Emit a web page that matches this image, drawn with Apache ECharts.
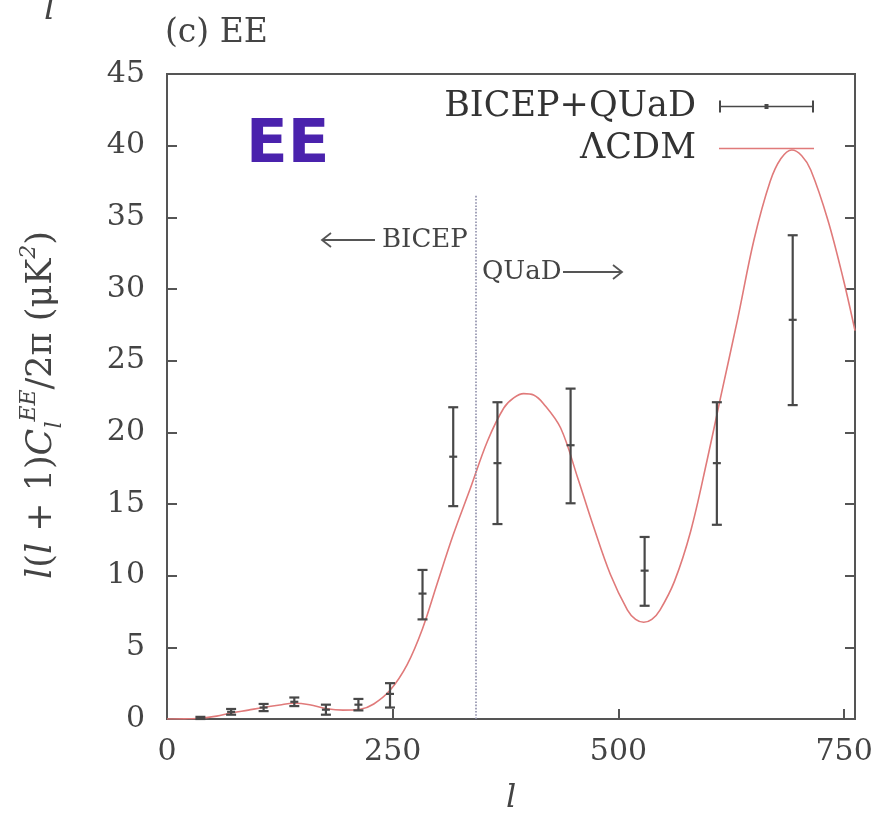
<!DOCTYPE html>
<html>
<head>
<meta charset="utf-8">
<script src="https://cdn.jsdelivr.net/npm/echarts@6/dist/echarts.min.js"></script>
<style>
html, body { margin: 0; padding: 0; background: #fff; }
#main { width: 877px; height: 820px; }
</style>
</head>
<body>
<div id="main"></div>
<script>
// ΛCDM model curve (l, l(l+1)C_l/2pi)
var cdmL = [0, 20, 37, 55, 70, 90, 106, 125, 140, 158, 177, 195, 214, 229, 247, 266, 283, 299, 317, 336, 355, 373, 384, 395, 406, 417, 436, 455, 472, 491, 510, 519, 528, 537, 546, 562, 580, 598, 613, 632, 650, 668, 680, 692, 703, 713, 732, 749, 762];
var cdmY = [0, 0.01, 0.05, 0.2, 0.4, 0.62, 0.8, 0.98, 1.1, 1.0, 0.72, 0.62, 0.68, 1.05, 2.0, 3.8, 6.3, 9.4, 12.85, 16.1, 19.4, 21.7, 22.4, 22.7, 22.6, 22.0, 20.3, 16.8, 13.5, 10.1, 7.6, 6.95, 6.75, 6.95, 7.6, 9.6, 13.1, 18.0, 22.4, 27.9, 33.4, 37.5, 39.1, 39.7, 39.3, 38.3, 34.8, 30.7, 27.1];

// BICEP+QUaD bandpowers
var ptL  = [37, 71, 107, 141, 176, 212, 247, 283, 317, 366, 447, 529, 609, 693];
var ptY  = [0.05, 0.5, 0.8, 1.2, 0.65, 1.0, 1.75, 8.75, 18.3, 17.85, 19.1, 10.35, 17.85, 27.85];
var ptLo = [0.0, 0.3, 0.55, 0.9, 0.3, 0.6, 0.8, 6.95, 14.85, 13.6, 15.05, 7.9, 13.55, 21.9];
var ptHi = [0.15, 0.7, 1.05, 1.5, 1.0, 1.4, 2.5, 10.4, 21.75, 22.1, 23.05, 12.7, 22.1, 33.75];

var xTicks = [0, 250, 500, 750];
var bicepEdge = 341.5;   // BICEP / QUaD boundary
var edgeTop = 36.6;

var serif = 'DejaVu Serif';
var txtColor = '#444';
var axisColor = '#555';

var curve = [];
for (var i = 0; i < cdmL.length; i++) {
    curve.push([cdmL[i], cdmY[i]]);
}
var bars = [];
for (var i = 0; i < ptL.length; i++) {
    bars.push([ptL[i], ptY[i], ptLo[i], ptHi[i]]);
}

// error bar with caps and centre mark
function renderBar(params, api) {
    var x = api.value(0);
    var c = api.coord([x, api.value(1)]);
    var lo = api.coord([x, api.value(2)]);
    var hi = api.coord([x, api.value(3)]);
    var w = 5;
    var st = { stroke: '#484848', lineWidth: 2.2 };
    return {
        type: 'group',
        children: [
            { type: 'line', shape: { x1: c[0], y1: lo[1], x2: c[0], y2: hi[1] }, style: st },
            { type: 'line', shape: { x1: c[0] - w, y1: lo[1], x2: c[0] + w, y2: lo[1] }, style: st },
            { type: 'line', shape: { x1: c[0] - w, y1: hi[1], x2: c[0] + w, y2: hi[1] }, style: st },
            { type: 'line', shape: { x1: c[0] - 4, y1: c[1], x2: c[0] + 4, y2: c[1] }, style: st }
        ]
    };
}

var barIcon = 'path://M0,0h2v12h-2z M0,5.2h95v1.6h-95z M93,0h2v12h-2z M45.5,3.5h4v5h-4z';
var lineIcon = 'path://M0,5.3h95v1.4h-95z';

var myChart = echarts.init(document.getElementById('main'));
var option = {
    backgroundColor: '#fff',
    animation: false,
    title: {
        text: '(c) EE',
        left: 160,
        top: 12,
        textStyle: { fontFamily: serif, fontSize: 33, fontWeight: 'normal', color: txtColor }
    },
    legend: {
        orient: 'vertical',
        right: 58,
        top: 84,
        align: 'right',
        itemWidth: 95,
        itemHeight: 12,
        itemGap: 7,
        textStyle: { fontFamily: serif, fontSize: 35, color: '#333', lineHeight: 30, padding: [0, 18, 0, 0] },
        data: [
            { name: 'BICEP+QUaD', icon: barIcon },
            { name: 'ΛCDM', icon: lineIcon }
        ]
    },
    grid: {
        left: 167, right: 22, top: 74, bottom: 98,
        show: true,
        borderColor: axisColor,
        borderWidth: 2
    },
    xAxis: [{
        type: 'value',
        min: 0,
        max: 762,
        name: 'l',
        nameLocation: 'middle',
        nameGap: 64,
        nameTextStyle: { fontFamily: serif, fontSize: 32, fontStyle: 'italic', color: txtColor },
        axisLine: { show: false },
        splitLine: { show: false },
        axisTick: { inside: true, length: 10, customValues: xTicks, lineStyle: { color: axisColor, width: 2 } },
        axisLabel: {
            margin: 18,
            customValues: xTicks,
            fontFamily: serif, fontSize: 30, color: txtColor,
            formatter: function (v) { return v % 250 === 0 ? String(v) : ''; }
        }
    }],
    yAxis: [{
        type: 'value',
        min: 0,
        max: 45,
        interval: 5,
        axisLine: { show: false },
        splitLine: { show: false },
        axisTick: { inside: true, length: 10, lineStyle: { color: axisColor, width: 2 } },
        axisLabel: { margin: 22, fontFamily: serif, fontSize: 30, color: txtColor }
    }, {
        type: 'value',
        position: 'right',
        min: 0,
        max: 45,
        interval: 5,
        axisLine: { show: false },
        splitLine: { show: false },
        axisTick: { inside: true, length: 10, lineStyle: { color: axisColor, width: 2 } },
        axisLabel: { show: false }
    }],
    graphic: [
        // piece of the neighbouring panel's axis label
        { type: 'text', x: 44, y: 27, style: { text: 'l', fontFamily: serif, fontSize: 34, fontStyle: 'italic', fill: txtColor, verticalAlign: 'bottom' } },
        { type: 'text', x: 246, y: 116, style: { text: 'EE', fontFamily: 'DejaVu Sans', fontSize: 61, fontWeight: 'bold', fill: '#4a22ad' } },
        // y axis title
        {
            type: 'text', x: 42, y: 405, rotation: Math.PI / 2,
            style: {
                text: '{i|l}({i|l} + 1){i|C}{sub|l}{sup|EE}/2π (μK{sup|2})',
                fontFamily: serif, fontSize: 35, fill: txtColor,
                align: 'center', verticalAlign: 'middle',
                rich: {
                    i: { fontFamily: serif, fontSize: 35, fontStyle: 'italic', fill: txtColor, lineHeight: 48 },
                    sub: { fontFamily: serif, fontSize: 22, fontStyle: 'italic', fill: txtColor, verticalAlign: 'bottom', lineHeight: 48 },
                    sup: { fontFamily: serif, fontSize: 22, fontStyle: 'italic', fill: txtColor, verticalAlign: 'top', lineHeight: 48 }
                }
            }
        },
        // BICEP / QUaD annotations
        { type: 'polyline', shape: { points: [[331, 233], [322, 240], [331, 247]] }, style: { stroke: '#555', lineWidth: 1.8, fill: null } },
        { type: 'line', shape: { x1: 322, y1: 240, x2: 375, y2: 240 }, style: { stroke: '#555', lineWidth: 1.8 } },
        { type: 'text', x: 382, y: 240, style: { text: 'BICEP', fontFamily: serif, fontSize: 26, fill: txtColor, verticalAlign: 'middle' } },
        { type: 'text', x: 482, y: 272, style: { text: 'QUaD', fontFamily: serif, fontSize: 26, fill: txtColor, verticalAlign: 'middle' } },
        { type: 'line', shape: { x1: 563, y1: 272, x2: 622, y2: 272 }, style: { stroke: '#555', lineWidth: 1.8 } },
        { type: 'polyline', shape: { points: [[613, 265], [622, 272], [613, 279]] }, style: { stroke: '#555', lineWidth: 1.8, fill: null } }
    ],
    series: [{
        name: 'ΛCDM',
        type: 'line',
        data: curve,
        smooth: 0.35,
        showSymbol: false,
        symbol: 'none',
        color: '#e07a7a',
        lineStyle: { color: '#e07a7a', width: 1.6 },
        z: 2,
        markLine: {
            silent: true,
            symbol: 'none',
            label: { show: false },
            lineStyle: { type: 'dotted', color: '#8c8ca8', width: 1.6 },
            data: [[{ coord: [bicepEdge, 0] }, { coord: [bicepEdge, edgeTop] }]]
        }
    }, {
        name: 'BICEP+QUaD',
        type: 'custom',
        renderItem: renderBar,
        data: bars,
        encode: { x: 0, y: 1 },
        itemStyle: { color: '#484848' },
        z: 3
    }]
};
myChart.setOption(option);
</script>
</body>
</html>
